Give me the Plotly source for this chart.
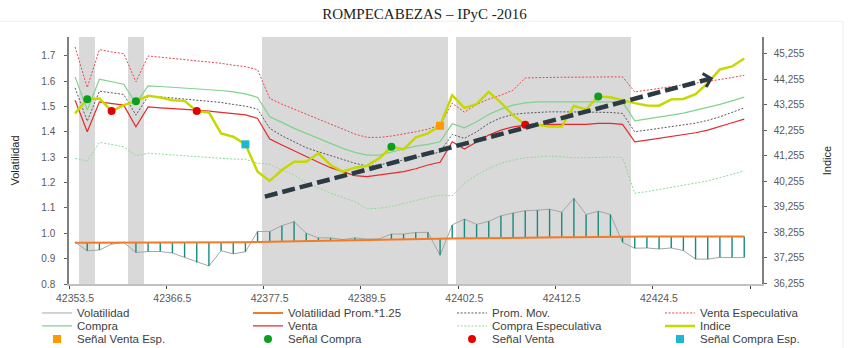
import plotly.graph_objects as go

# ---------------- data ----------------
dias = list(range(56))
x_tick_pos = [-0.5, 7.5, 15.5, 23.5, 31.5, 39.5, 47.5, 55.5]
x_tick_labels = ["42353.5", "42366.5", "42377.5", "42389.5", "42402.5", "42412.5", "42424.5", ""]

volatilidad = [0.965, 0.931, 0.934, 0.957, 0.964, 0.924, 0.928, 0.928, 0.922, 0.905,
               0.885, 0.871, 0.931, 0.919, 0.927, 1.007, 1.007, 1.030, 1.046, 1.000,
               0.982, 0.982, 0.975, 0.982, 0.977, 0.978, 0.997, 0.997, 1.003, 1.004,
               0.913, 1.033, 1.056, 1.035, 1.047, 1.069, 1.080, 1.089, 1.091, 1.095,
               1.083, 1.138, 1.074, 1.087, 1.074, 0.964, 0.941, 0.942, 0.938, 0.942,
               0.932, 0.898, 0.898, 0.905, 0.904, 0.904]

vol_prom = [0.963, 0.963, 0.963, 0.963, 0.964, 0.964, 0.964, 0.964, 0.964, 0.965,
            0.965, 0.965, 0.965, 0.965, 0.965, 0.966, 0.967, 0.968, 0.969, 0.970,
            0.970, 0.971, 0.972, 0.973, 0.974, 0.975, 0.975, 0.976, 0.977, 0.977,
            0.978, 0.979, 0.980, 0.980, 0.981, 0.981, 0.982, 0.982, 0.983, 0.983,
            0.984, 0.984, 0.985, 0.985, 0.986, 0.986, 0.987, 0.987, 0.987, 0.987,
            0.987, 0.987, 0.987, 0.987, 0.987, 0.987]

prom_mov = [43907, 42604, 43778, 43727, 43649, 42839, 43582, 43555, 43516, 43465,
            43426, 43387, 43336, 43258, 43191, 43074, 42319, 42029, 41795, 41560,
            41403, 41247, 41079, 40950, 40848, 40883, 40981, 41067, 41180, 41286,
            41392, 42084, 41928, 42186, 42514, 42734, 42867, 42917, 42945, 42968,
            42968, 42968, 42968, 42968, 42945, 42906, 42186, 42252, 42319, 42381,
            42448, 42526, 42632, 42773, 42945, 43125]

venta_esp = [45511, 43923, 45409, 45316, 45253, 44142, 45159, 45108, 45057, 45018,
             44979, 44924, 44873, 44795, 44744, 44619, 43492, 43269, 43074, 42878,
             42710, 42514, 42291, 42096, 41967, 41967, 42018, 42096, 42186, 42291,
             42448, 43309, 42957, 43258, 43465, 43622, 43817, 44298, 44314, 44314,
             44326, 44326, 44338, 44338, 44338, 44338, 43751, 43817, 43884, 43946,
             44013, 44079, 44142, 44236, 44314, 44404]

compra = [44338, 43035, 44248, 44142, 44052, 43297, 43985, 43962, 43935, 43907,
          43884, 43845, 43805, 43751, 43672, 43532, 42773, 42554, 42319, 42123,
          41928, 41732, 41536, 41380, 41274, 41274, 41403, 41509, 41626, 41693,
          41795, 42499, 42342, 42577, 42867, 43074, 43230, 43320, 43359, 43359,
          43359, 43359, 43359, 43387, 43387, 43359, 42616, 42683, 42761, 42839,
          42917, 43023, 43125, 43258, 43399, 43543]

venta = [43426, 42186, 43359, 43297, 43230, 42381, 43164, 43125, 43101, 43074,
         43035, 42996, 42957, 42906, 42851, 42710, 41900, 41666, 41431, 41208,
         40989, 40778, 40621, 40465, 40426, 40492, 40559, 40621, 40735, 40883,
         40989, 41795, 41509, 41771, 42057, 42252, 42381, 42448, 42475, 42475,
         42475, 42475, 42475, 42514, 42514, 42475, 41795, 41861, 41928, 41990,
         42057, 42147, 42252, 42381, 42538, 42683]

compra_esp = [41145, 41040, 41771, 41693, 41599, 41247, 41341, 41313, 41274, 41247,
              41208, 41184, 41145, 41118, 41106, 40950, 40911, 40688, 40492, 40167,
              39995, 39776, 39620, 39447, 39162, 39189, 39252, 39385, 39494, 39604,
              39710, 39670, 40167, 40492, 40754, 40950, 41079, 41169, 41208, 41235,
              41208, 41169, 41169, 41196, 41196, 41169, 39776, 39839, 39917, 39995,
              40073, 40152, 40257, 40386, 40519, 40648]

indice = [42906, 43465, 43492, 42996, 43230, 43387, 43594, 43532, 43426, 43399,
          42996, 42945, 42123, 41990, 41693, 40621, 40257, 40688, 41012, 41012,
          41341, 40883, 40621, 40778, 40856, 41145, 41599, 41497, 41971, 42123,
          42421, 43622, 43125, 43269, 43751, 43328, 42839, 42460, 42460, 42397,
          42389, 43199, 43066, 43571, 43536, 43414, 43309, 43219, 43211, 43457,
          43473, 43661, 44091, 44631, 44748, 45057]

bandas = [0, 1, 0, 0, 0, 1, 0, 0, 0, 0,
          0, 0, 0, 0, 0, 0, 1, 1, 1, 1,
          1, 1, 1, 1, 1, 1, 1, 1, 1, 1,
          1, 0, 1, 1, 1, 1, 1, 1, 1, 1,
          1, 1, 1, 1, 1, 1, 0, 0, 0, 0,
          0, 0, 0, 0, 0, 0]

senal_venta_esp = [30]
senal_compra = [1, 5, 26, 43]
senal_venta = [3, 10, 37]
senal_compra_esp = [14]

vol_ticks = [0.8, 0.9, 1.0, 1.1, 1.2, 1.3, 1.4, 1.5, 1.6, 1.7]
idx_ticks = [36255, 37255, 38255, 39255, 40255, 41255, 42255, 43255, 44255, 45255]

# trend arrow (drawn annotation) endpoints: (day, index)
flecha_inicio = (15.6, 39643)
flecha_fin = (52.45, 44298)

# ---------------- figure ----------------
FONT = "Liberation Sans, Arial, sans-serif"
fig = go.Figure()

# legend grid: 4 columns x 3 rows below the plot
col_x = [-0.0462, 0.2583, 0.5527, 0.8528]
row_y = [-0.1173, -0.1698, -0.2224]
legend_layout = {}
legend_count = [0]

def next_legend(row, col):
    legend_count[0] += 1
    key = "legend" if legend_count[0] == 1 else f"legend{legend_count[0]}"
    legend_layout[key] = dict(
        orientation="h", xanchor="left", yanchor="middle",
        x=col_x[col], y=row_y[row],
        font=dict(family=FONT, size=11.5, color="#404040"),
        bgcolor="rgba(0,0,0,0)", itemclick=False, itemdoubleclick=False)
    return key

band_top = 2.0
fig.add_trace(go.Bar(
    x=dias, y=[band_top if b else None for b in bandas], base=0,
    width=1.32, marker=dict(color="#d9d9d9", line=dict(width=0)),
    showlegend=False, hoverinfo="skip", yaxis="y"))

fig.add_trace(go.Scatter(
    x=dias, y=volatilidad, mode="lines", name="Volatilidad",
    line=dict(color="#a6a6a6", width=1), yaxis="y", legend=next_legend(0, 0)))

# high-low lines between volatility and its average
sx, sy = [], []
for d, a, b in zip(dias, vol_prom, volatilidad):
    sx += [d, d, None]
    sy += [a, b, None]
fig.add_trace(go.Scatter(
    x=sx, y=sy, mode="lines", line=dict(color="#168a80", width=1.4),
    showlegend=False, hoverinfo="skip", yaxis="y"))

fig.add_trace(go.Scatter(
    x=dias, y=vol_prom, mode="lines", name="Volatilidad Prom.*1.25",
    line=dict(color="#f47b25", width=2), yaxis="y", legend=next_legend(0, 1)))

dotted = "2px,1.6px"
fig.add_trace(go.Scatter(
    x=dias, y=prom_mov, mode="lines", name="Prom. Mov.",
    line=dict(color="#5a5a5a", width=1, dash=dotted), yaxis="y2", legend=next_legend(0, 2)))
fig.add_trace(go.Scatter(
    x=dias, y=venta_esp, mode="lines", name="Venta Especulativa",
    line=dict(color="#e8474c", width=1, dash=dotted), yaxis="y2", legend=next_legend(0, 3)))

fig.add_trace(go.Scatter(
    x=dias, y=compra, mode="lines", name="Compra",
    line=dict(color="#7fd38a", width=1.2), yaxis="y2", legend=next_legend(1, 0)))
fig.add_trace(go.Scatter(
    x=dias, y=venta, mode="lines", name="Venta",
    line=dict(color="#e52a2e", width=1.2), yaxis="y2", legend=next_legend(1, 1)))
fig.add_trace(go.Scatter(
    x=dias, y=compra_esp, mode="lines", name="Compra Especulativa",
    line=dict(color="#8edb97", width=1, dash=dotted), yaxis="y2", legend=next_legend(1, 2)))
fig.add_trace(go.Scatter(
    x=dias, y=indice, mode="lines", name="Indice",
    line=dict(color="#c5d800", width=2.5), yaxis="y2", legend=next_legend(1, 3)))

def marcas(idx, name, color, symbol, col):
    fig.add_trace(go.Scatter(
        x=[dias[i] for i in idx], y=[indice[i] for i in idx], mode="markers",
        name=name, marker=dict(color=color, size=8, symbol=symbol,
                               line=dict(width=0)),
        yaxis="y2", legend=next_legend(2, col)))

marcas(senal_venta_esp, "Señal Venta Esp.", "#ff9a00", "square", 0)
marcas(senal_compra, "Señal Compra", "#0c9e1f", "circle", 1)
marcas(senal_venta, "Señal Venta", "#e60000", "circle", 2)
marcas(senal_compra_esp, "Señal Compra Esp.", "#1fb6d0", "square", 3)

# dashed trend arrow
slope = (flecha_fin[1] - flecha_inicio[1]) / (flecha_fin[0] - flecha_inicio[0])
fig.add_shape(type="line", xref="x", yref="y2",
              x0=flecha_inicio[0], y0=flecha_inicio[1],
              x1=flecha_fin[0] - 0.9, y1=flecha_fin[1] - 0.9 * slope,
              line=dict(color="#2b3a43", width=4.5, dash="13px,5px"), layer="above")
fig.add_annotation(x=flecha_fin[0], y=flecha_fin[1], xref="x", yref="y2",
                   ax=flecha_fin[0] - 1.2, ay=flecha_fin[1] - 1.2 * slope,
                   axref="x", ayref="y2", text="", showarrow=True,
                   arrowhead=4, arrowsize=0.6, arrowwidth=4.5, arrowcolor="#2b3a43")

# faint chart-area border
fig.add_shape(type="line", xref="paper", yref="paper",
              x0=(0 - 69) / 693, x1=(843 - 69) / 693,
              y0=(284 - 21) / 247.3, y1=(284 - 21) / 247.3,
              line=dict(color="#efefef", width=1))
fig.add_shape(type="line", xref="paper", yref="paper",
              x0=(843 - 69) / 693, x1=(843 - 69) / 693,
              y0=(284 - 21) / 247.3, y1=(284 - 348) / 247.3,
              line=dict(color="#efefef", width=1))

fig.update_layout(
    width=849, height=348,
    margin=dict(l=69, r=87, t=37, b=64, autoexpand=False),
    paper_bgcolor="white", plot_bgcolor="white",
    title=dict(text="ROMPECABEZAS – IPyC -2016", x=0.5, xref="container",
               y=1 - 14 / 348, yref="container", yanchor="middle", xanchor="center",
               font=dict(family="Liberation Serif, Times New Roman, serif", size=15, color="#222222")),
    bargap=0,
    xaxis=dict(range=[-0.5, 56.46], tickmode="array", tickvals=x_tick_pos,
               ticktext=x_tick_labels, ticklabelshift=6, ticks="outside", ticklen=3,
               tickcolor="#404040", showline=True, linecolor="#c0c0c0", linewidth=2,
               showgrid=False, zeroline=False,
               tickfont=dict(family=FONT, size=10.5, color="#595959")),
    yaxis=dict(range=[0.8, 1.7737], tickmode="array", tickvals=vol_ticks,
               ticktext=[f"{v:.1f}" for v in vol_ticks], ticks="outside", ticklen=3,
               tickcolor="#606060", showline=True, linecolor="#7f7f7f", linewidth=1.5,
               showgrid=False, zeroline=False, ticklabelstandoff=7,
               tickfont=dict(family=FONT, size=10, color="#595959"),
               title=dict(text="Volatilidad", standoff=19,
                          font=dict(family="Liberation Sans Narrow, Liberation Sans, Arial", size=11, color="#262626"))),
    yaxis2=dict(range=[36216, 45903], overlaying="y", side="right", tickmode="array",
                tickvals=idx_ticks, ticktext=[f"{v:,}" for v in idx_ticks],
                ticks="outside", ticklen=3, tickcolor="#606060", showline=True,
                linecolor="#7f7f7f", linewidth=1.5, showgrid=False, zeroline=False,
                ticklabelstandoff=5,
                tickfont=dict(family=FONT, size=10, color="#595959"),
                title=dict(text="Indice", standoff=20,
                           font=dict(family="Liberation Sans Narrow, Liberation Sans, Arial", size=11, color="#262626"))),
    **legend_layout,
)

fig.write_html("out.html")
